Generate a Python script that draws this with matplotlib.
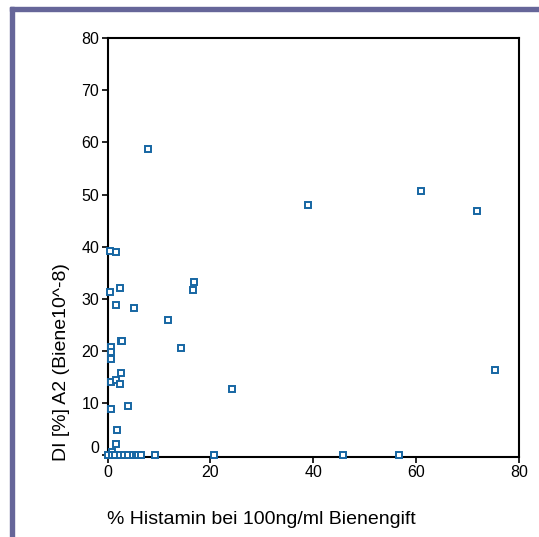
import matplotlib
matplotlib.use("Agg")
import matplotlib.pyplot as plt
import matplotlib.transforms as mtransforms
from matplotlib.patches import Rectangle

# % histamine release at 100 ng/ml bee venom vs. DI [%] A2
histamin = [7.8, 39.0, 60.9, 71.9, 75.4, 24.2, 14.2, 11.8, 16.9, 16.7,
            5.1, 0.5, 1.6, 0.5, 2.4, 1.6, 2.7, 2.9, 0.6, 0.6,
            0.6, 2.7, 0.6, 1.6, 2.4, 0.6, 4.0, 1.9, 1.6, 0.9,
            0.1, 0.8, 1.4, 2.4, 3.2, 4.0, 4.9, 5.5, 6.0, 6.5,
            9.3, 20.8, 45.7, 56.6]
di_a2 = [58.8, 48.0, 50.6, 46.9, 16.4, 12.7, 20.6, 25.9, 33.3, 31.7,
         28.2, 39.2, 38.9, 31.4, 32.0, 28.8, 21.9, 21.9, 20.8, 19.9,
         18.4, 15.8, 14.0, 14.4, 13.6, 8.9, 9.4, 4.9, 2.2, 0.6,
         0, 0, 0, 0, 0, 0, 0, 0, 0, 0,
         0, 0, 0, 0]

x_ticks = [0, 20, 40, 60, 80]
y_ticks = [0, 10, 20, 30, 40, 50, 60, 70, 80]

plt.rcParams['font.family'] = ['Liberation Sans', 'DejaVu Sans']

W, H = 539, 537
fig = plt.figure(figsize=(W / 100, H / 100), dpi=100)

# slide-style frame: bar across the top and down the left side
frame_color = '#666699'
fig.patches.append(Rectangle((10 / W, 1 - 11 / H), 1 - 10 / W, 4 / H,
                             transform=fig.transFigure, color=frame_color, zorder=0))
fig.patches.append(Rectangle((10 / W, 0), 4 / W, 1 - 7 / H,
                             transform=fig.transFigure, color=frame_color, zorder=0))

left, right, top, bottom = 107.5, 519, 38, 456.5
ax = fig.add_axes([left / W, 1 - bottom / H, (right - left) / W, (bottom - top) / H])

ax.plot(histamin, di_a2, linestyle='none', marker='s', markersize=5,
        markerfacecolor='white', markeredgecolor='#1666a3', markeredgewidth=1.4,
        clip_on=False, zorder=3)

ax.set_xlim(0, 80)
ax.set_ylim(-0.2, 80)
ax.set_xticks(x_ticks)
ax.set_yticks(y_ticks)
ax.tick_params(axis='both', direction='out', length=4, width=1.2, labelsize=11.5,
               pad=2, colors='black')

for s in ax.spines.values():
    s.set_linewidth(1.5)
    s.set_color('black')

# lift the "0" label on the y axis clear of the x axis
offset = mtransforms.ScaledTranslation(0, 0.085, fig.dpi_scale_trans)
zero_label = ax.yaxis.get_major_ticks()[0].label1
zero_label.set_transform(zero_label.get_transform() + offset)

fig.text(261 / W, 1 - 519 / H, '% Histamin bei 100ng/ml Bienengift',
         ha='center', va='center', fontsize=14)
fig.text(61 / W, 1 - 362 / H, 'DI [%] A2 (Biene10^-8)',
         ha='center', va='center', rotation=90, fontsize=14)

fig.savefig('out.png', dpi=100)
